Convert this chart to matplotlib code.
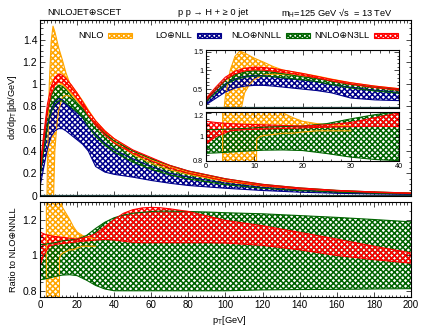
import matplotlib
matplotlib.use("Agg")
import matplotlib.pyplot as plt
from matplotlib.ticker import MultipleLocator, AutoMinorLocator
from matplotlib.patches import Rectangle
import numpy as np

plt.rcParams['font.family'] = ['Liberation Sans', 'DejaVu Sans']
plt.rcParams['mathtext.fontset'] = 'custom'
plt.rcParams['mathtext.rm'] = 'Liberation Sans'
plt.rcParams['mathtext.it'] = 'Liberation Sans:italic'
plt.rcParams['hatch.linewidth'] = 1.1

# spectrum dsigma/dpT [pb/GeV]
pt = [0, 2, 4, 6, 8, 10, 12, 14, 17, 20, 23, 26, 30, 35, 40, 50, 60, 70, 80, 100, 120, 140, 160, 180, 200]
red_hi = [0.25, 0.55, 0.82, 0.98, 1.06, 1.09, 1.08, 1.05, 0.99, 0.92, 0.84, 0.76, 0.67, 0.58, 0.51, 0.41, 0.34, 0.27, 0.22, 0.15, 0.10, 0.068, 0.046, 0.032, 0.022]
red_lo = [0.20, 0.48, 0.75, 0.91, 0.99, 1.02, 1.01, 0.98, 0.93, 0.87, 0.80, 0.72, 0.63, 0.54, 0.47, 0.38, 0.31, 0.245, 0.20, 0.13, 0.088, 0.06, 0.041, 0.028, 0.019]
grn_hi = [0.22, 0.50, 0.75, 0.89, 0.96, 0.99, 0.98, 0.95, 0.89, 0.83, 0.78, 0.71, 0.63, 0.55, 0.49, 0.40, 0.33, 0.27, 0.22, 0.15, 0.10, 0.068, 0.046, 0.032, 0.022]
grn_lo = [0.16, 0.40, 0.62, 0.75, 0.82, 0.85, 0.85, 0.83, 0.79, 0.75, 0.70, 0.62, 0.53, 0.45, 0.39, 0.30, 0.235, 0.185, 0.148, 0.097, 0.065, 0.044, 0.030, 0.021, 0.015]
blu_hi = [0.18, 0.42, 0.64, 0.77, 0.84, 0.87, 0.86, 0.83, 0.78, 0.74, 0.70, 0.62, 0.55, 0.47, 0.41, 0.33, 0.26, 0.20, 0.165, 0.11, 0.072, 0.048, 0.032, 0.022, 0.015]
blu_lo = [0.08, 0.25, 0.42, 0.53, 0.58, 0.60, 0.60, 0.58, 0.54, 0.50, 0.46, 0.40, 0.26, 0.21, 0.19, 0.165, 0.135, 0.11, 0.09, 0.065, 0.045, 0.03, 0.02, 0.014, 0.01]

nnlo_pt = [3, 4, 5, 6, 7, 8, 9, 10, 12, 14, 16, 18, 20, 23, 26, 30, 35, 40, 50, 60, 70, 80, 100, 120, 140, 160, 180, 200]
nnlo_hi = [-1.0, 0.3, 1.0, 1.38, 1.52, 1.47, 1.40, 1.33, 1.22, 1.10, 1.01, 0.96, 0.92, 0.85, 0.77, 0.67, 0.58, 0.51, 0.40, 0.32, 0.26, 0.21, 0.14, 0.095, 0.064, 0.044, 0.030, 0.021]
nnlo_lo = [-3.0, -3.0, -2.5, -1.5, -0.2, 0.40, 0.62, 0.76, 0.88, 0.90, 0.89, 0.87, 0.85, 0.79, 0.72, 0.63, 0.55, 0.48, 0.37, 0.29, 0.23, 0.19, 0.125, 0.085, 0.058, 0.04, 0.027, 0.019]

# ratio to NLO+NNLL
rat_pt = [0, 2, 5, 8, 12, 16, 20, 25, 30, 35, 40, 45, 50, 55, 60, 65, 70, 80, 90, 100, 120, 140, 160, 180, 200]
rg_hi = [1.06, 1.06, 1.065, 1.07, 1.08, 1.085, 1.09, 1.11, 1.15, 1.185, 1.21, 1.225, 1.235, 1.24, 1.245, 1.247, 1.247, 1.245, 1.242, 1.238, 1.232, 1.222, 1.212, 1.20, 1.187]
rg_lo = [0.862, 0.865, 0.872, 0.88, 0.888, 0.89, 0.885, 0.86, 0.83, 0.81, 0.80, 0.80, 0.80, 0.80, 0.80, 0.80, 0.80, 0.80, 0.80, 0.80, 0.805, 0.807, 0.808, 0.81, 0.812]
rr_hi = [1.13, 1.12, 1.11, 1.105, 1.10, 1.095, 1.09, 1.10, 1.12, 1.16, 1.20, 1.235, 1.255, 1.265, 1.268, 1.266, 1.26, 1.245, 1.22, 1.195, 1.165, 1.128, 1.09, 1.05, 1.013]
rr_lo = [0.94, 1.0, 1.05, 1.06, 1.065, 1.07, 1.075, 1.08, 1.085, 1.088, 1.085, 1.078, 1.072, 1.07, 1.07, 1.07, 1.07, 1.07, 1.07, 1.068, 1.055, 1.03, 0.998, 0.975, 0.955]

nrat_pt = [3.3, 3.5, 10.0, 10.5, 11, 12, 14, 16, 18, 20, 23, 26, 30]
nrat_hi = [-3, 3, 3, 3, 1.32, 1.27, 1.235, 1.20, 1.16, 1.13, 1.11, 1.10, 1.09]
nrat_lo = [-3, -3, -3, 0.98, 1.0, 1.01, 1.02, 1.03, 1.03, 1.04, 1.05, 1.05, 1.05]

ORANGE = '#ffa500'
BLUE = '#00008b'
GREEN = '#006400'
RED = '#ff0000'
HATCH = 'xxxxxx'


def band(ax, x, lo, hi, c):
    ax.fill_between(x, lo, hi, facecolor='none', edgecolor=c, hatch=HATCH, linewidth=0)
    ax.plot(x, lo, color=c, lw=0.8)
    ax.plot(x, hi, color=c, lw=0.8)


def style(ax, size):
    ax.tick_params(which='both', direction='in', top=True, right=True, width=0.5, labelsize=size, pad=2)
    ax.tick_params(which='major', length=3.5)
    ax.tick_params(which='minor', length=1.8)
    for s in ax.spines.values():
        s.set_linewidth(0.8)


fig = plt.figure(figsize=(4.22, 3.27), dpi=100)

# main panel
ax = fig.add_axes([0.0948, 0.4021, 0.8791, 0.5367])
band(ax, nnlo_pt, nnlo_lo, nnlo_hi, ORANGE)
band(ax, pt, blu_lo, blu_hi, BLUE)
band(ax, pt, grn_lo, grn_hi, GREEN)
band(ax, pt, red_lo, red_hi, RED)
ax.axhline(0, color='#1c3c3c', lw=1.6)
ax.set_xlim(0, 200)
ax.set_ylim(0, 1.575)
ax.xaxis.set_major_locator(MultipleLocator(20))
ax.xaxis.set_minor_locator(AutoMinorLocator(10))
ax.yaxis.set_major_locator(MultipleLocator(0.2))
ax.yaxis.set_minor_locator(AutoMinorLocator(4))
ax.set_xticklabels([])
ax.set_yticks([0, 0.2, 0.4, 0.6, 0.8, 1.0, 1.2, 1.4])
ax.set_yticklabels(['0', '0.2', '0.4', '0.6', '0.8', '1', '1.2', '1.4'])
style(ax, 7.5)

# legend row (gnuplot style: text then sample)
labels = ['NNLO', 'LO\u2295NLL', 'NLO\u2295NNLL', 'NNLO\u2295N3LL']
colors = [ORANGE, BLUE, GREEN, RED]
box_left = [0.1833, 0.4232, 0.6631, 0.9003]
for lab, c, bx in zip(labels, colors, box_left):
    ax.add_patch(Rectangle((bx, 0.899), 0.064, 0.026, transform=ax.transAxes,
                           facecolor='none', edgecolor=c, hatch='xxxxxxx', lw=0.8))
    ax.text(bx - 0.013, 0.912, lab, transform=ax.transAxes, ha='right', va='center', fontsize=6.7)

# lower ratio panel
ar = fig.add_axes([0.0948, 0.0917, 0.8791, 0.2915])
band(ar, nrat_pt, nrat_lo, nrat_hi, ORANGE)
band(ar, rat_pt, rg_lo, rg_hi, GREEN)
band(ar, rat_pt, rr_lo, rr_hi, RED)
ar.set_xlim(0, 200)
ar.set_ylim(0.765, 1.3)
ar.xaxis.set_major_locator(MultipleLocator(20))
ar.xaxis.set_minor_locator(AutoMinorLocator(10))
ar.set_yticks([0.8, 1.0, 1.2])
ar.set_yticklabels(['0.8', '1', '1.2'])
ar.yaxis.set_minor_locator(AutoMinorLocator(4))
style(ar, 7.5)
ar.tick_params(axis='x', labelsize=7)

# inset: spectrum at low pT
ai = fig.add_axes([0.4882, 0.6706, 0.4573, 0.1765])
band(ai, nnlo_pt, nnlo_lo, nnlo_hi, ORANGE)
band(ai, pt, blu_lo, blu_hi, BLUE)
band(ai, pt, grn_lo, grn_hi, GREEN)
band(ai, pt, red_lo, red_hi, RED)
ai.axhline(0, color='#1c3c3c', lw=1.6)
ai.set_xlim(0, 40)
ai.set_ylim(0, 1.55)
ai.xaxis.set_major_locator(MultipleLocator(10))
ai.xaxis.set_minor_locator(AutoMinorLocator(5))
ai.set_yticks([0, 0.5, 1.0, 1.5])
ai.set_yticklabels(['0', '0.5', '1', '1.5'])
ai.yaxis.set_minor_locator(AutoMinorLocator(5))
ai.set_xticklabels([])
style(ai, 5.2)

# inset: ratio at low pT
aj = fig.add_axes([0.4882, 0.5086, 0.4573, 0.1498])
band(aj, nrat_pt, nrat_lo, nrat_hi, ORANGE)
band(aj, rat_pt, rg_lo, rg_hi, GREEN)
band(aj, rat_pt, rr_lo, rr_hi, RED)
aj.set_xlim(0, 40)
aj.set_ylim(0.8, 1.21)
aj.xaxis.set_major_locator(MultipleLocator(10))
aj.xaxis.set_minor_locator(AutoMinorLocator(5))
aj.set_yticks([0.8, 1.0, 1.2])
aj.set_yticklabels(['0.8', '1', '1.2'])
aj.yaxis.set_minor_locator(AutoMinorLocator(4))
style(aj, 5.2)
aj.get_yticklabels()[-1].set_va('top')
ai.get_yticklabels()[0].set_va('bottom')

# header and axis titles
fig.text(0.111, 0.961, 'NNLOJET\u2295SCET', fontsize=6.7, ha='left', va='center')
fig.text(0.506, 0.961, 'p p \u2192 H + \u2265 0 jet', fontsize=6.7, ha='center', va='center')
fig.text(0.931, 0.961, 'm$_\\mathrm{H}$=125 GeV \u221as  = 13 TeV', fontsize=6.7, ha='right', va='center')
fig.text(0.03, 0.673, 'd\u03c3/dp$_\\mathrm{T}$[pb/GeV]', fontsize=6.7, rotation=90, ha='center', va='center')
fig.text(0.033, 0.2355, 'Ratio to NLO\u2295NNLL', fontsize=6.7, rotation=90, ha='center', va='center')
fig.text(0.543, 0.021, 'p$_\\mathrm{T}$[GeV]', fontsize=6.7, ha='center', va='center')

fig.savefig('out.png', dpi=100)
